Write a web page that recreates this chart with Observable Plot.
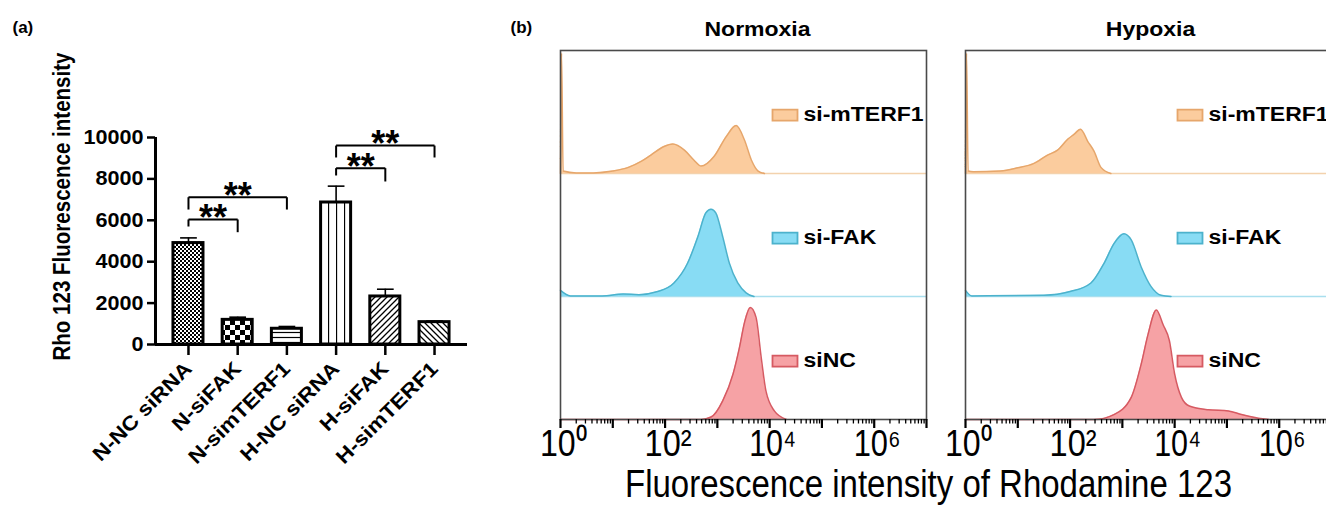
<!DOCTYPE html>
<html><head><meta charset="utf-8">
<script src="https://cdn.jsdelivr.net/npm/d3@7"></script>
<script src="https://cdn.jsdelivr.net/npm/@observablehq/plot@0.6"></script>
<style>
html,body{margin:0;padding:0;background:#fff;overflow:hidden}
#fig{position:relative;width:1326px;height:506px;overflow:hidden;background:#fff}
#fig svg{position:absolute;top:0;max-width:none}
</style></head><body><div id="fig"></div>
<script>
// ---------- Panel (a) data ----------
const categories = ["N-NC siRNA","N-siFAK","N-simTERF1","H-NC siRNA","H-siFAK","H-simTERF1"];
const meanValues = [4900, 1190, 760, 6860, 2320, 1080];
const errValues  = [250, 130, 110, 790, 350, 50];
const yTicks = [0, 2000, 4000, 6000, 8000, 10000];
const yTitle = "Rho 123 Fluorescence intensity";
// significance brackets (category indices, bracket heights in data units)
const sigFrom = [0, 0, 3, 3];
const sigTo   = [1, 2, 4, 5];
const sigText = ["**", "**", "**", "**"];
const sigTop  = [6040, 7115, 8520, 9610];
const sigLegL = [5700, 6520, 8165, 9035];
const sigLegR = [5425, 6520, 7875, 9035];

// ---------- Panel (b) data ----------
const conditions = ["Normoxia", "Hypoxia"];
const samples = ["siNC", "si-FAK", "si-mTERF1"]; // bottom row -> top row
const xLabelExps = [0, 2, 4, 6];
const xLabelText = ["10\u2070", "10\u00B2", "10\u2074", "10\u2076"];
const xTitle = "Fluorescence intensity of Rhodamine 123";
// [log10 intensity, % of row height]
const normoxiaNC = [[0,0],[2.69,0],[2.88,2],[3.1,15],[3.3,37],[3.42,58],[3.52,79],[3.63,91],[3.74,83],[3.84,50],[3.93,23],[4.09,7],[4.32,0]];
const normoxiaFAK = [[0,5],[0.19,0.5],[0.8,0.5],[1.2,2],[1.5,1.5],[1.86,4],[2.17,11],[2.43,27],[2.63,49],[2.78,68],[2.88,71],[2.97,68],[3.1,49],[3.23,27],[3.39,11],[3.55,3],[3.7,0]];
const normoxiaMTERF1 = [[0,0],[0.02,98],[0.05,2],[0.3,0.5],[0.63,0.5],[1.0,2],[1.3,5],[1.55,10],[1.73,15],[1.98,22],[2.15,24],[2.37,19],[2.55,11],[2.69,6],[2.94,14],[3.17,30],[3.36,39],[3.52,27],[3.65,11],[3.78,2],[3.9,0]];
const hypoxiaNC = [[0,0],[2.46,0],[2.84,4],[3.17,18],[3.36,45],[3.49,69],[3.65,89],[3.78,77],[3.9,64],[4.0,37],[4.13,18],[4.28,11],[4.64,8],[5.03,7],[5.28,4],[5.6,1],[5.8,0]];
const hypoxiaFAK = [[0,5],[0.12,0.5],[1.5,1],[2.0,4],[2.4,11],[2.65,27],[2.84,43],[3.03,51],[3.17,46],[3.36,24],[3.55,8],[3.74,1],[3.93,0]];
const hypoxiaMTERF1 = [[0,0],[0.02,98],[0.05,2],[0.15,1.4],[0.67,2],[1.0,4.6],[1.3,8],[1.57,15],[1.76,19],[1.96,28],[2.08,32],[2.2,36],[2.34,26],[2.46,18],[2.59,5],[2.78,0]];

// ---------- styles ----------
const FONT = '"Liberation Sans", Arial, sans-serif';
const FONT_N = '"Liberation Sans Narrow", "Arial Narrow", "Liberation Sans", Arial, sans-serif';
const patternIds = ["fine", "check", "hline", "vline", "diagR", "diagL"];
const sampleFill = {"siNC": "#f6a2a5", "si-FAK": "#88dcf4", "si-mTERF1": "#fbcc9e"};
const sampleStroke = {"siNC": "#d65a62", "si-FAK": "#4cb2cc", "si-mTERF1": "#e6a66b"};
const baselineColor = {"si-FAK": "#a9dfee", "si-mTERF1": "#f3d2ad"};

const fig = document.getElementById("fig");

// stretch helper: widen/narrow real text horizontally to match the reference lettering
function stretchTexts(svg, test, factor, fixed) {
  d3.select(svg).selectAll("text").each(function () {
    if (!test(this.textContent)) return;
    const L = fixed != null ? fixed : this.getComputedTextLength() * factor;
    this.setAttribute("textLength", L);
    this.setAttribute("lengthAdjust", "spacingAndGlyphs");
  });
}

// ---------- Panel (a) ----------
const bars = categories.map((c, i) => ({i, c, v: meanValues[i], e: errValues[i], p: `url(#pat-${patternIds[i]})`}));
const brackets = sigFrom.map((f, k) => ({a: f, b: sigTo[k], top: sigTop[k], l: sigLegL[k], r: sigLegR[k], t: sigText[k]}));
const half = 0.305, cap = 0.17, xMin = -0.67, xMax = 5.67;

const plotA = Plot.plot({
  width: 480, height: 506,
  marginLeft: 155, marginRight: 13, marginTop: 137, marginBottom: 162,
  style: {fontFamily: FONT, background: "transparent", color: "#000", overflow: "visible"},
  x: {domain: [xMin, xMax], axis: null},
  y: {domain: [0, 10000], axis: null},
  color: {type: "identity"},
  marks: [
    Plot.rectY(bars, {x1: d => d.i - half, x2: d => d.i + half, y1: 0, y2: "v", fill: "p", stroke: "#000", strokeWidth: 3}),
    Plot.ruleX(bars, {x: "i", y1: "v", y2: d => d.v + d.e, stroke: "#000", strokeWidth: 1.6}),
    Plot.link(bars, {x1: d => d.i - cap, x2: d => d.i + cap, y1: d => d.v + d.e, y2: d => d.v + d.e, stroke: "#000", strokeWidth: 1.6}),
    Plot.ruleY([0], {stroke: "#000", strokeWidth: 3}),
    Plot.ruleX([xMin], {y1: 0, y2: 10000, stroke: "#000", strokeWidth: 3}),
    Plot.axisY({ticks: yTicks, tickSize: 8, tickPadding: 4, strokeWidth: 2.5, fontSize: 20, fontWeight: "bold", label: null, tickFormat: d => String(d)}),
    Plot.axisX({ticks: d3.range(categories.length), tickSize: 11, tickRotate: -45, tickPadding: 10, strokeWidth: 2.5, fontSize: 20, fontWeight: "bold", label: null, tickFormat: i => categories[i]}),
    Plot.link(brackets, {x1: "a", x2: "b", y1: "top", y2: "top", stroke: "#000", strokeWidth: 2}),
    Plot.link(brackets, {x1: "a", x2: "a", y1: "top", y2: "l", stroke: "#000", strokeWidth: 2}),
    Plot.link(brackets, {x1: "b", x2: "b", y1: "top", y2: "r", stroke: "#000", strokeWidth: 2}),
    Plot.text(brackets, {x: d => (d.a + d.b) / 2, y: "top", text: "t", fontSize: 36, fontWeight: "bold", dy: -1, fill: "#000"}),
    Plot.text([yTitle], {text: d => d, frameAnchor: "left", textAnchor: "middle", lineAnchor: "middle", rotate: -90, dx: -93, dy: -34.5, fontSize: 23, fontWeight: "bold", fill: "#000"}),
    Plot.text(["(a)"], {text: d => d, frameAnchor: "top-left", dx: -143, dy: -105, lineAnchor: "bottom", textAnchor: "start", fontSize: 17, fontWeight: "bold", fill: "#000"})
  ]
});
plotA.style.left = "0px";
const defs = d3.select(plotA).insert("defs", ":first-child");
function pat(id, w, h, build) {
  const p = defs.append("pattern").attr("id", "pat-" + id).attr("patternUnits", "userSpaceOnUse").attr("width", w).attr("height", h);
  p.append("rect").attr("width", w).attr("height", h).attr("fill", "#fff");
  build(p);
}
pat("fine", 4, 4, p => { p.append("rect").attr("width", 2).attr("height", 2).attr("fill", "#000"); p.append("rect").attr("x", 2).attr("y", 2).attr("width", 2).attr("height", 2).attr("fill", "#000"); });
pat("check", 10, 10, p => { p.append("rect").attr("width", 5).attr("height", 5).attr("fill", "#000"); p.append("rect").attr("x", 5).attr("y", 5).attr("width", 5).attr("height", 5).attr("fill", "#000"); });
pat("hline", 6, 5, p => p.append("path").attr("d", "M0,2.5H6").attr("stroke", "#000").attr("stroke-width", 1.2));
pat("vline", 8, 8, p => p.append("path").attr("d", "M0.5,0V8").attr("stroke", "#000").attr("stroke-width", 1.3));
pat("diagR", 6, 6, p => p.append("path").attr("d", "M0,6L6,0M-1.5,1.5L1.5,-1.5M4.5,7.5L7.5,4.5").attr("stroke", "#000").attr("stroke-width", 1.3));
pat("diagL", 6, 6, p => p.append("path").attr("d", "M0,0L6,6M-1.5,4.5L1.5,7.5M4.5,-1.5L7.5,1.5").attr("stroke", "#000").attr("stroke-width", 1.3));
fig.appendChild(plotA);
stretchTexts(plotA, t => categories.includes(t), 1.13);
stretchTexts(plotA, t => yTicks.map(String).includes(t), 1.08);
stretchTexts(plotA, t => t === yTitle, null, 308);

// ---------- Panel (b) ----------
const histSets = {
  "Normoxia": {"siNC": normoxiaNC, "si-FAK": normoxiaFAK, "si-mTERF1": normoxiaMTERF1},
  "Hypoxia":  {"siNC": hypoxiaNC,  "si-FAK": hypoxiaFAK,  "si-mTERF1": hypoxiaMTERF1}
};
const recs = [];
for (const cond of conditions) {
  samples.forEach((s, row) => {
    for (const [e, h] of histSets[cond][s]) {
      recs.push({cond, s, key: cond + "|" + s, row, x: 10 ** e, y: row + h / 100, fill: sampleFill[s], stroke: sampleStroke[s]});
    }
  });
}
const baselines = samples.map((s, row) => ({s, row})).filter(d => baselineColor[d.s]).map(d => ({y: d.row, c: baselineColor[d.s]}));
const legendData = samples.map((s, row) => ({s, y: row + 0.475, fill: sampleFill[s], stroke: sampleStroke[s]}));
const rectSymbol = {draw(ctx) { ctx.moveTo(-12.5, -5.5); ctx.lineTo(12.5, -5.5); ctx.lineTo(12.5, 5.5); ctx.lineTo(-12.5, 5.5); ctx.closePath(); }};
const majorTicks = d3.range(0, 8).map(k => 10 ** k);
const minorTicks = d3.range(0, 7).flatMap(k => d3.range(2, 10).map(m => m * 10 ** k));
const xLabels = xLabelExps.map((e, k) => ({x: 10 ** e, t: xLabelText[k]}));

const plotB = Plot.plot({
  width: 860, height: 506,
  marginLeft: 80, marginRight: 9, marginTop: 50, marginBottom: 87,
  style: {fontFamily: FONT, background: "transparent", color: "#000", overflow: "visible"},
  fx: {domain: conditions, paddingInner: 0.0963, paddingOuter: 0, round: false, axis: null},
  x: {type: "log", domain: [1, 1e7], axis: null},
  y: {domain: [0, 3], axis: null},
  color: {type: "identity"},
  marks: [
    Plot.ruleY(baselines, {y: "y", stroke: "c", strokeWidth: 1.3}),
    Plot.areaY(recs, {x: "x", y1: "row", y2: "y", z: "key", fill: "fill", fx: "cond", curve: "monotone-x"}),
    Plot.line(recs, {x: "x", y: "y", z: "key", stroke: "stroke", fx: "cond", curve: "monotone-x", strokeWidth: 1.5}),
    Plot.dot(legendData, {y: "y", frameAnchor: "left", dx: 224.5, symbol: rectSymbol, fill: "fill", stroke: "stroke", strokeWidth: 1.8}),
    Plot.text(legendData, {y: "y", frameAnchor: "left", dx: 243, text: "s", textAnchor: "start", fontSize: 20, fontWeight: "bold", fill: "#000"}),
    Plot.frame({stroke: "#4a4a4a", strokeWidth: 1.6}),
    Plot.axisX({ticks: minorTicks, tickSize: 4.5, strokeWidth: 1.3, tickFormat: () => "", label: null}),
    Plot.axisX({ticks: majorTicks, tickSize: 9, strokeWidth: 2.2, tickFormat: () => "", label: null}),
    Plot.text(xLabels, {x: "x", text: "t", frameAnchor: "bottom", lineAnchor: "bottom", textAnchor: "middle", dx: 3, dy: 36, fontSize: 37, fontFamily: FONT_N, fill: "#000"}),
    // facet titles
    Plot.text([conditions[0]], {fx: d => d, text: d => d, frameAnchor: "top", lineAnchor: "bottom", dx: 14, dy: -15, fontSize: 20, fontWeight: "bold", fill: "#000"}),
    Plot.text([conditions[1]], {fx: d => d, text: d => d, frameAnchor: "top", lineAnchor: "bottom", dx: 2, dy: -15, fontSize: 20, fontWeight: "bold", fill: "#000"}),
    Plot.text([xTitle], {text: d => d, facet: "super", frameAnchor: "bottom", dx: -17.5, dy: 77, lineAnchor: "bottom", fontSize: 38, fontFamily: FONT_N, fill: "#000"}),
    Plot.text(["(b)"], {text: d => d, facet: "super", frameAnchor: "top-left", dx: -50, dy: -18, lineAnchor: "bottom", textAnchor: "start", fontSize: 17, fontWeight: "bold", fill: "#000"})
  ]
});
plotB.style.left = "480px";
fig.appendChild(plotB);
stretchTexts(plotB, t => samples.includes(t) || conditions.includes(t), 1.15);
stretchTexts(plotB, t => xLabelText.includes(t), null, 47);
stretchTexts(plotB, t => t === xTitle, null, 607);
</script></body></html>
